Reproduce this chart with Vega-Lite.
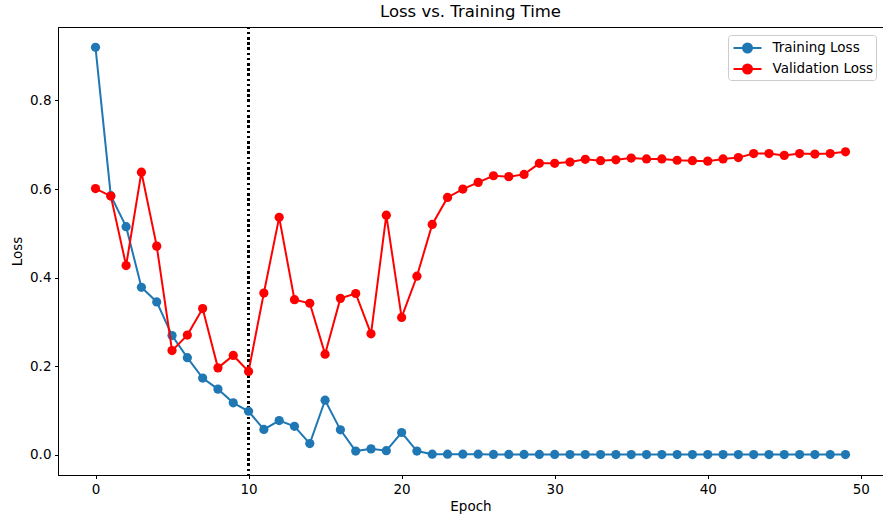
{
  "$schema": "https://vega.github.io/schema/vega-lite/v6.json",
  "autosize": {"type": "none"},
  "padding": {"left": 58, "top": 27, "right": 0, "bottom": 43},
  "width": 825,
  "height": 448,
  "title": {"text": "Loss vs. Training Time", "fontSize": 16.5, "font": "DejaVu Sans", "fontWeight": "normal", "color": "black", "offset": 6, "anchor": "middle"},
  "config": {
    "font": "DejaVu Sans",
    "view": {"stroke": "black", "strokeWidth": 1},
    "axis": {"labelFont": "DejaVu Sans", "titleFont": "DejaVu Sans", "labelFontSize": 13.5, "titleFontSize": 13.5, "titleFontWeight": "normal", "labelColor": "black", "titleColor": "black", "domainColor": "black", "tickColor": "black", "tickSize": 3.5, "labelPadding": 3.5, "grid": false}
  },
  "datasets": {
    "loss": [
      {"epoch": 0, "loss": 0.920, "series": "Training Loss"},
      {"epoch": 1, "loss": 0.585, "series": "Training Loss"},
      {"epoch": 2, "loss": 0.515, "series": "Training Loss"},
      {"epoch": 3, "loss": 0.378, "series": "Training Loss"},
      {"epoch": 4, "loss": 0.345, "series": "Training Loss"},
      {"epoch": 5, "loss": 0.269, "series": "Training Loss"},
      {"epoch": 6, "loss": 0.219, "series": "Training Loss"},
      {"epoch": 7, "loss": 0.173, "series": "Training Loss"},
      {"epoch": 8, "loss": 0.148, "series": "Training Loss"},
      {"epoch": 9, "loss": 0.117, "series": "Training Loss"},
      {"epoch": 10, "loss": 0.098, "series": "Training Loss"},
      {"epoch": 11, "loss": 0.057, "series": "Training Loss"},
      {"epoch": 12, "loss": 0.077, "series": "Training Loss"},
      {"epoch": 13, "loss": 0.064, "series": "Training Loss"},
      {"epoch": 14, "loss": 0.025, "series": "Training Loss"},
      {"epoch": 15, "loss": 0.123, "series": "Training Loss"},
      {"epoch": 16, "loss": 0.056, "series": "Training Loss"},
      {"epoch": 17, "loss": 0.008, "series": "Training Loss"},
      {"epoch": 18, "loss": 0.013, "series": "Training Loss"},
      {"epoch": 19, "loss": 0.009, "series": "Training Loss"},
      {"epoch": 20, "loss": 0.050, "series": "Training Loss"},
      {"epoch": 21, "loss": 0.008, "series": "Training Loss"},
      {"epoch": 22, "loss": 0.001, "series": "Training Loss"},
      {"epoch": 23, "loss": 0.001, "series": "Training Loss"},
      {"epoch": 24, "loss": 0.001, "series": "Training Loss"},
      {"epoch": 25, "loss": 0.001, "series": "Training Loss"},
      {"epoch": 26, "loss": 0.0005, "series": "Training Loss"},
      {"epoch": 27, "loss": 0.0005, "series": "Training Loss"},
      {"epoch": 28, "loss": 0.0005, "series": "Training Loss"},
      {"epoch": 29, "loss": 0.0004, "series": "Training Loss"},
      {"epoch": 30, "loss": 0.0004, "series": "Training Loss"},
      {"epoch": 31, "loss": 0.0003, "series": "Training Loss"},
      {"epoch": 32, "loss": 0.0003, "series": "Training Loss"},
      {"epoch": 33, "loss": 0.0003, "series": "Training Loss"},
      {"epoch": 34, "loss": 0.0002, "series": "Training Loss"},
      {"epoch": 35, "loss": 0.0002, "series": "Training Loss"},
      {"epoch": 36, "loss": 0.0002, "series": "Training Loss"},
      {"epoch": 37, "loss": 0.0002, "series": "Training Loss"},
      {"epoch": 38, "loss": 0.0001, "series": "Training Loss"},
      {"epoch": 39, "loss": 0.0001, "series": "Training Loss"},
      {"epoch": 40, "loss": 0.0001, "series": "Training Loss"},
      {"epoch": 41, "loss": 0.0001, "series": "Training Loss"},
      {"epoch": 42, "loss": 0.0001, "series": "Training Loss"},
      {"epoch": 43, "loss": 0.0001, "series": "Training Loss"},
      {"epoch": 44, "loss": 0.0001, "series": "Training Loss"},
      {"epoch": 45, "loss": 0.0001, "series": "Training Loss"},
      {"epoch": 46, "loss": 0.0001, "series": "Training Loss"},
      {"epoch": 47, "loss": 0.0001, "series": "Training Loss"},
      {"epoch": 48, "loss": 0.0001, "series": "Training Loss"},
      {"epoch": 49, "loss": 0.0001, "series": "Training Loss"},
      {"epoch": 0, "loss": 0.601, "series": "Validation Loss"},
      {"epoch": 1, "loss": 0.584, "series": "Validation Loss"},
      {"epoch": 2, "loss": 0.427, "series": "Validation Loss"},
      {"epoch": 3, "loss": 0.638, "series": "Validation Loss"},
      {"epoch": 4, "loss": 0.471, "series": "Validation Loss"},
      {"epoch": 5, "loss": 0.235, "series": "Validation Loss"},
      {"epoch": 6, "loss": 0.270, "series": "Validation Loss"},
      {"epoch": 7, "loss": 0.330, "series": "Validation Loss"},
      {"epoch": 8, "loss": 0.196, "series": "Validation Loss"},
      {"epoch": 9, "loss": 0.224, "series": "Validation Loss"},
      {"epoch": 10, "loss": 0.188, "series": "Validation Loss"},
      {"epoch": 11, "loss": 0.365, "series": "Validation Loss"},
      {"epoch": 12, "loss": 0.536, "series": "Validation Loss"},
      {"epoch": 13, "loss": 0.350, "series": "Validation Loss"},
      {"epoch": 14, "loss": 0.342, "series": "Validation Loss"},
      {"epoch": 15, "loss": 0.227, "series": "Validation Loss"},
      {"epoch": 16, "loss": 0.353, "series": "Validation Loss"},
      {"epoch": 17, "loss": 0.364, "series": "Validation Loss"},
      {"epoch": 18, "loss": 0.273, "series": "Validation Loss"},
      {"epoch": 19, "loss": 0.541, "series": "Validation Loss"},
      {"epoch": 20, "loss": 0.310, "series": "Validation Loss"},
      {"epoch": 21, "loss": 0.403, "series": "Validation Loss"},
      {"epoch": 22, "loss": 0.520, "series": "Validation Loss"},
      {"epoch": 23, "loss": 0.581, "series": "Validation Loss"},
      {"epoch": 24, "loss": 0.600, "series": "Validation Loss"},
      {"epoch": 25, "loss": 0.615, "series": "Validation Loss"},
      {"epoch": 26, "loss": 0.630, "series": "Validation Loss"},
      {"epoch": 27, "loss": 0.628, "series": "Validation Loss"},
      {"epoch": 28, "loss": 0.633, "series": "Validation Loss"},
      {"epoch": 29, "loss": 0.658, "series": "Validation Loss"},
      {"epoch": 30, "loss": 0.658, "series": "Validation Loss"},
      {"epoch": 31, "loss": 0.661, "series": "Validation Loss"},
      {"epoch": 32, "loss": 0.667, "series": "Validation Loss"},
      {"epoch": 33, "loss": 0.664, "series": "Validation Loss"},
      {"epoch": 34, "loss": 0.666, "series": "Validation Loss"},
      {"epoch": 35, "loss": 0.670, "series": "Validation Loss"},
      {"epoch": 36, "loss": 0.668, "series": "Validation Loss"},
      {"epoch": 37, "loss": 0.668, "series": "Validation Loss"},
      {"epoch": 38, "loss": 0.665, "series": "Validation Loss"},
      {"epoch": 39, "loss": 0.664, "series": "Validation Loss"},
      {"epoch": 40, "loss": 0.663, "series": "Validation Loss"},
      {"epoch": 41, "loss": 0.668, "series": "Validation Loss"},
      {"epoch": 42, "loss": 0.671, "series": "Validation Loss"},
      {"epoch": 43, "loss": 0.680, "series": "Validation Loss"},
      {"epoch": 44, "loss": 0.680, "series": "Validation Loss"},
      {"epoch": 45, "loss": 0.676, "series": "Validation Loss"},
      {"epoch": 46, "loss": 0.680, "series": "Validation Loss"},
      {"epoch": 47, "loss": 0.679, "series": "Validation Loss"},
      {"epoch": 48, "loss": 0.680, "series": "Validation Loss"},
      {"epoch": 49, "loss": 0.684, "series": "Validation Loss"}
    ]
  },
  "data": {"name": "loss"},
  "encoding": {
    "x": {"field": "epoch", "type": "quantitative", "scale": {"domain": [-2.45, 51.45], "nice": false, "zero": false}, "axis": {"title": "Epoch", "values": [0, 10, 20, 30, 40, 50], "titlePadding": 4}},
    "y": {"field": "loss", "type": "quantitative", "scale": {"domain": [-0.046, 0.966], "nice": false, "zero": false}, "axis": {"title": "Loss", "values": [0, 0.2, 0.4, 0.6, 0.8], "format": ".1f", "titlePadding": 5}}
  },
  "layer": [
    {
      "mark": {"type": "rule", "color": "black", "strokeWidth": 1.9, "strokeDash": [1.9, 3.3]},
      "encoding": {"x": {"datum": 10}, "y": null}
    },
    {
      "transform": [{"filter": "datum.series === 'Training Loss'"}],
      "mark": {"type": "line", "strokeWidth": 2, "point": {"filled": true, "size": 85, "opacity": 1}},
      "encoding": {
        "color": {"field": "series", "type": "nominal", "scale": {"domain": ["Training Loss", "Validation Loss"], "range": ["#1f77b4", "#ff0000"]},
          "legend": {"title": null, "orient": "none", "legendX": 670, "legendY": 8, "symbolType": "M-1.4,0H1.4M-0.45,0A0.45,0.45,0,1,1,0.45,0A0.45,0.45,0,1,1,-0.45,0Z", "symbolSize": 400, "symbolStrokeWidth": 2, "symbolOffset": 6.5, "labelOffset": 14, "labelFontSize": 13.5, "labelFont": "DejaVu Sans", "labelColor": "black", "padding": 2, "rowPadding": 1, "fillColor": "white", "strokeColor": "#cccccc", "cornerRadius": 3,
            "encode": {"symbols": {"update": {"fill": {"scale": "color", "field": "value"}, "stroke": {"scale": "color", "field": "value"}, "opacity": {"value": 1}}}}}}
      }
    },
    {
      "transform": [{"filter": "datum.series === 'Validation Loss'"}],
      "mark": {"type": "line", "strokeWidth": 2, "point": {"filled": true, "size": 85, "opacity": 1}},
      "encoding": {
        "color": {"field": "series", "type": "nominal"}
      }
    }
  ]
}
